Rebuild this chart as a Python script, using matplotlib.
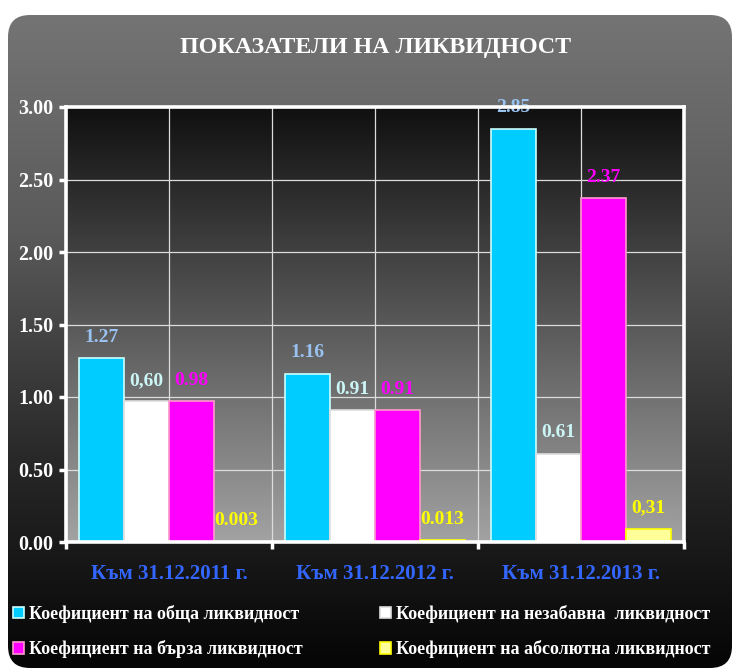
import numpy as np
import matplotlib
matplotlib.use("Agg")
import matplotlib.pyplot as plt
from matplotlib.colors import LinearSegmentedColormap
from matplotlib.patches import FancyBboxPatch

plt.rcParams['font.family'] = ['Liberation Serif', 'DejaVu Serif']
plt.rcParams['font.weight'] = 'bold'

# ----- DATA -----
categories = ['Към 31.12.2011 г.', 'Към 31.12.2012 г.', 'Към 31.12.2013 г.']
series_names = ['Коефициент на обща ликвидност',
                'Коефициент на незабавна  ликвидност',
                'Коефициент на бърза ликвидност',
                'Коефициент на абсолютна ликвидност']
obshta = [1.27, 1.16, 2.85]
nezabavna = [0.97, 0.91, 0.61]
barza = [0.97, 0.91, 2.37]
absolyutna = [0.003, 0.013, 0.09]
labels_obshta = ['1.27', '1.16', '2.85']
labels_nezabavna = ['0,60', '0.91', '0.61']
labels_barza = ['0.98', '0.91', '2.37']
labels_absolyutna = ['0.003', '0.013', '0,31']

series = [obshta, nezabavna, barza, absolyutna]
series_labels = [labels_obshta, labels_nezabavna, labels_barza, labels_absolyutna]
face_colors = ['#00ccff', '#ffffff', '#ff00ff', '#ffff99']
edge_colors = ['#ccffff', '#dddddd', '#ff99cc', '#ffff00']
label_colors = ['#99c2f0', '#ccf5f5', '#ff00ff', '#ffff00']

# ----- FIGURE -----
fig = plt.figure(figsize=(7.37, 6.69), dpi=100)
fig.patch.set_facecolor('white')

# rounded dark background with vertical gradient
bg = fig.add_axes([0, 0, 1, 1], zorder=-10)
bg.set_xlim(0, 737)
bg.set_ylim(669, 0)
bg.axis('off')
grad = np.linspace(0, 1, 256).reshape(-1, 1)
img = bg.imshow(grad, extent=[8, 732, 668, 15], aspect='auto',
                cmap=LinearSegmentedColormap.from_list('bg', ['#747474', '#5a5a5a', '#2a2a2a', '#050505']))
box = FancyBboxPatch((8, 15), 724, 653, boxstyle='round,pad=0,rounding_size=22',
                     transform=bg.transData, facecolor='none', edgecolor='none')
bg.add_patch(box)
img.set_clip_path(box)

ax = fig.add_axes([66 / 737, 1 - 542 / 669, 618 / 737, 435 / 669])
ax.set_facecolor('none')

# plot-area gradient: black at top, grey at bottom
pgrad = np.linspace(0, 1, 256).reshape(-1, 1)
ax.imshow(pgrad, extent=[-0.5, 2.5, 0, 3.0], aspect='auto', zorder=0, origin='upper',
          cmap=LinearSegmentedColormap.from_list('pa', ['#101010', '#a2a2a2']))
ax.set_xlim(-0.5, 2.5)
ax.set_ylim(0, 3.0)

x = np.arange(len(categories))
w = 0.218
offsets = [-1.5 * w, -0.5 * w, 0.5 * w, 1.5 * w]
handles = []
for vals, labs, fc, ec, lc, off, name in zip(series, series_labels, face_colors, edge_colors,
                                              label_colors, offsets, series_names):
    b = ax.bar(x + off, vals, w, color=fc, edgecolor=ec, linewidth=1.2, zorder=3, label=name)
    handles.append(b)
    for xi, v, s in zip(x + off, vals, labs):
        ax.annotate(s, (xi, v), xytext=(0, 15), textcoords='offset points',
                    ha='center', va='center', color=lc, fontsize=14, fontweight='bold', zorder=4)

# grid
ax.set_yticks(np.arange(0, 3.01, 0.5))
ax.set_yticklabels([f'{v:.2f}' for v in np.arange(0, 3.01, 0.5)])
ax.set_xticks([-0.5, 0.5, 1.5, 2.5])
ax.set_xticklabels([])
ax.set_xticks(x, minor=True)
ax.set_xticklabels(categories, minor=True)
ax.grid(True, which='both', color='#dcdcdc', linewidth=0.9, zorder=1)
ax.set_axisbelow(True)

for sp in ax.spines.values():
    sp.set_color('white')
    sp.set_linewidth(2.6)
    sp.set_zorder(5)

ax.tick_params(axis='y', colors='white', length=5, width=2.5, direction='out', pad=4, labelsize=14.5)
ax.tick_params(axis='x', which='major', colors='white', length=5, width=2.5, direction='out')
ax.tick_params(axis='x', which='minor', length=0, pad=16, labelsize=15, labelcolor='#3366ff')
for t in ax.get_yticklabels() + ax.get_xticklabels(minor=True):
    t.set_fontweight('bold')

fig.text(376 / 737, 1 - 48 / 669, 'ПОКАЗАТЕЛИ НА ЛИКВИДНОСТ', ha='center', va='center',
         color='white', fontsize=17.3, fontweight='bold')

# legend: two columns placed separately
leg_kw = dict(loc='upper left', frameon=False, handlelength=0.6, handleheight=0.6,
              handletextpad=0.3, labelspacing=0.95, borderpad=0, borderaxespad=0,
              prop={'weight': 'bold', 'size': 13})
leg1 = fig.legend([handles[0], handles[2]], [series_names[0], series_names[2]],
                  bbox_to_anchor=(13 / 737, 1 - 605 / 669), **leg_kw)
leg2 = fig.legend([handles[1], handles[3]], [series_names[1], series_names[3]],
                  bbox_to_anchor=(380 / 737, 1 - 605 / 669), **leg_kw)
for lg in (leg1, leg2):
    for t in lg.get_texts():
        t.set_color('white')

fig.savefig('out.png', dpi=100, facecolor=fig.get_facecolor())
